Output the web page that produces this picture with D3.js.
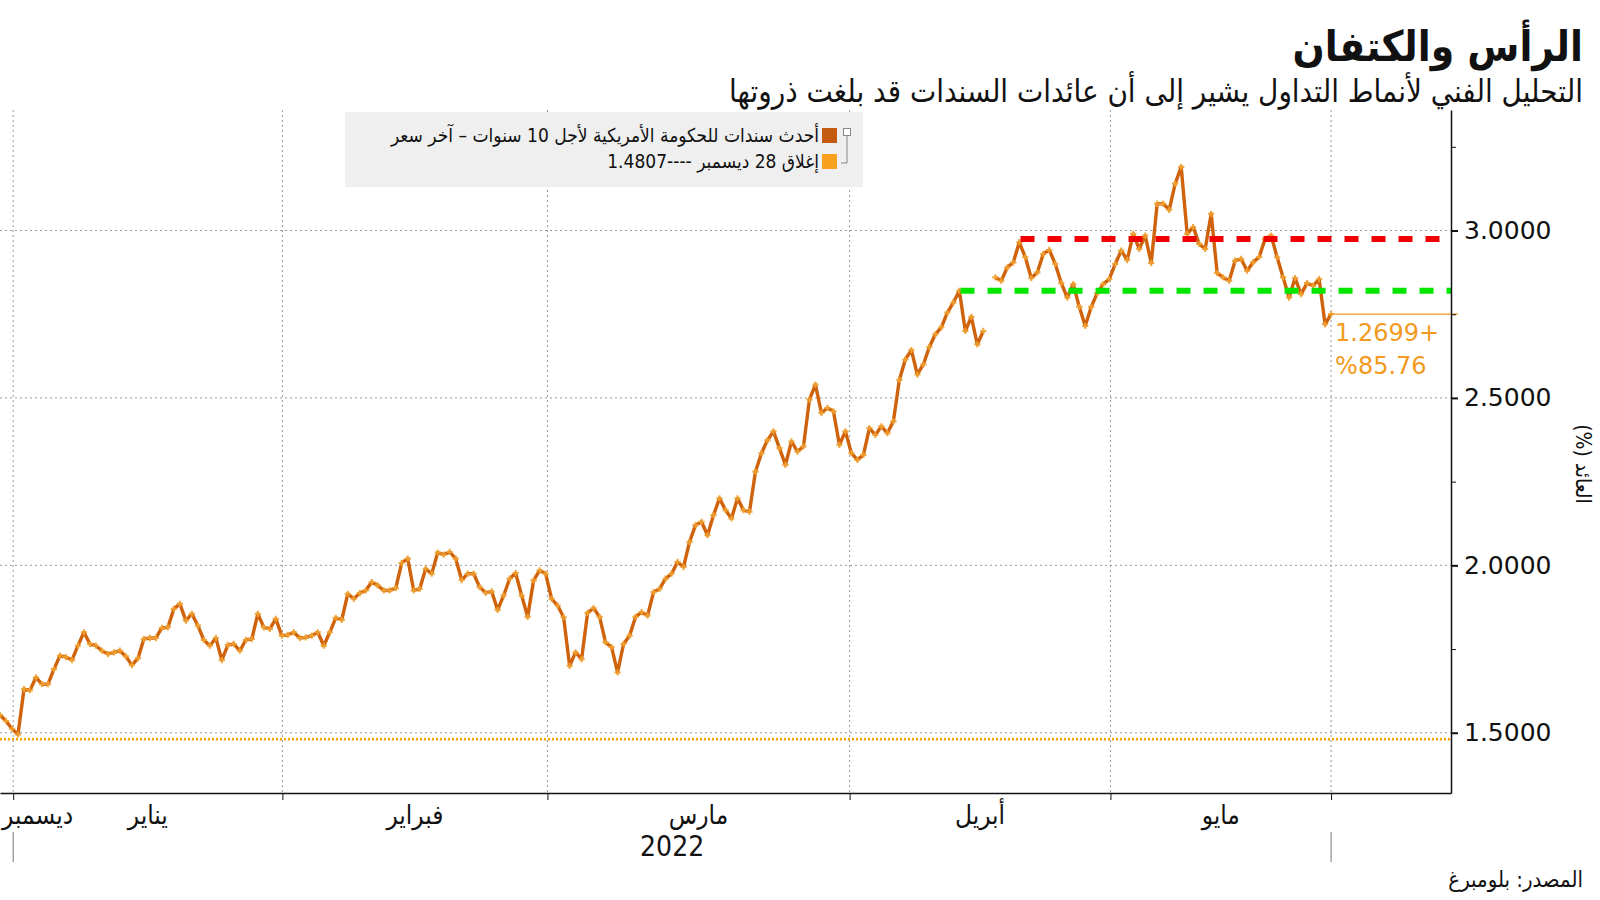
<!DOCTYPE html>
<html>
<head>
<meta charset="utf-8">
<script src="https://d3js.org/d3.v7.min.js"></script>
<style>
  body { margin: 0; background: #fff; }
  .ar { font-family: 'DejaVu Sans Condensed', 'DejaVu Sans', sans-serif; }
  .num { font-family: 'DejaVu Sans', Verdana, sans-serif; }
</style>
</head>
<body>
<div id="chart"></div>
<script>
// US 10y yield, one value per session slot, split by month
let dec = [1.553, 1.535, 1.512]
let jan = [1.495, 1.63, 1.627, 1.665, 1.645, 1.645, 1.69, 1.73, 1.726, 1.717,
  1.76, 1.80, 1.765, 1.76, 1.745, 1.735, 1.74, 1.745, 1.728, 1.702,
  1.722, 1.78, 1.783, 1.783, 1.813, 1.815, 1.87, 1.885, 1.835, 1.855,
  1.82, 1.777, 1.76, 1.783, 1.717, 1.762, 1.765, 1.745, 1.777, 1.78,
  1.855, 1.815, 1.81, 1.84, 1.79]
let feb = [1.792, 1.80, 1.783, 1.785, 1.79, 1.80, 1.76, 1.80, 1.843, 1.837,
  1.915, 1.90, 1.917, 1.925, 1.95, 1.94, 1.925, 1.925, 1.932, 2.007,
  2.02, 1.925, 1.93, 1.99, 1.975, 2.038, 2.032, 2.04, 2.02, 1.956,
  1.975, 1.975, 1.935, 1.918, 1.922, 1.867, 1.91, 1.96, 1.977, 1.91,
  1.846, 1.955, 1.985, 1.975]
let mar = [1.90, 1.88, 1.845, 1.70, 1.74, 1.72, 1.858, 1.872, 1.846, 1.77,
  1.756, 1.68, 1.765, 1.79, 1.846, 1.86, 1.85, 1.92, 1.93, 1.96,
  1.975, 2.01, 1.995, 2.07, 2.12, 2.13, 2.09, 2.15, 2.2, 2.165,
  2.14, 2.2, 2.165, 2.16, 2.28, 2.335, 2.374, 2.40, 2.35, 2.30,
  2.37, 2.34, 2.355, 2.495, 2.54, 2.455, 2.47, 2.46, 2.36, 2.40]
let apr = [2.335, 2.315, 2.33, 2.41, 2.39, 2.415, 2.395, 2.43, 2.554, 2.615,
  2.643, 2.57, 2.60, 2.652, 2.69, 2.711, 2.755, 2.785, 2.82, 2.70,
  2.742, 2.66, 2.70, null, 2.86, 2.85, 2.89, 2.905, 2.965, 2.92,
  2.858, 2.875, 2.93, 2.942, 2.9, 2.843, 2.80, 2.84, 2.772, 2.715,
  2.772, 2.813, 2.84, 2.855]
let may = [2.90, 2.94, 2.912, 2.99, 2.945, 2.985, 2.903, 3.08, 3.08, 3.062,
  3.14, 3.19, 2.99, 3.01, 2.96, 2.945, 3.05, 2.873, 2.86, 2.85,
  2.91, 2.915, 2.88, 2.905, 2.921, 2.975, 2.985, 2.92, 2.86, 2.80,
  2.858, 2.81, 2.843, 2.835, 2.855, 2.72, 2.7506]

let yields = [].concat(dec, jan, feb, mar, apr, may)

let monthTicks = [2.2, 47.1, 91.3, 141.7, 185.2, 222]
let monthLabels = ['يناير', 'فبراير', 'مارس', 'أبريل', 'مايو']
let yearLabel = '2022'
let yTicks = [1.5, 2.0, 2.5, 3.0]
let yMinorTicks = [1.75, 2.25, 2.75, 3.25]
let lastClose = 1.4807
let levels = [
  { value: 2.82, start: 160.2, color: '#00e600' },
  { value: 2.975, start: 170.2, color: '#f00000' }
]

let margin = { top: 110, left: 0, right: 149, bottom: 107 }
let width = 1600 - margin.left - margin.right
let height = 900 - margin.top - margin.bottom

let xScale = d3.scaleLinear().domain([0, 242]).range([0, width])
let yScale = d3.scaleLinear().domain([1.32, 3.36]).range([height, 0])

let svg = d3
  .select('#chart')
  .append('svg')
  .attr('width', 1600)
  .attr('height', 900)

let g = svg.append('g').attr('transform', `translate(${margin.left},${margin.top})`)

// legend box sits under the grid
let legend = svg.append('g')
legend
  .append('rect')
  .attr('x', 345)
  .attr('y', 112)
  .attr('width', 518)
  .attr('height', 75)
  .attr('fill', '#efefef')

// grid
g.selectAll('.vgrid')
  .data(monthTicks)
  .enter()
  .append('line')
  .attr('class', 'vgrid')
  .attr('x1', d => xScale(d))
  .attr('x2', d => xScale(d))
  .attr('y1', 0)
  .attr('y2', height)
  .attr('stroke', '#999')
  .attr('stroke-dasharray', '2,3')

g.selectAll('.hgrid')
  .data(yTicks)
  .enter()
  .append('line')
  .attr('class', 'hgrid')
  .attr('x1', 0)
  .attr('x2', width)
  .attr('y1', d => yScale(d))
  .attr('y2', d => yScale(d))
  .attr('stroke', '#999')
  .attr('stroke-dasharray', '2,3')

// last close reference line
g.append('line')
  .attr('x1', 0)
  .attr('x2', width)
  .attr('y1', yScale(lastClose))
  .attr('y2', yScale(lastClose))
  .attr('stroke', '#f7a600')
  .attr('stroke-width', 2.5)
  .attr('stroke-dasharray', '2,2')

let line = d3
  .line()
  .defined(d => d !== null)
  .x((d, i) => xScale(i))
  .y(d => yScale(d))

g.append('path')
  .datum(yields)
  .attr('fill', 'none')
  .attr('stroke', '#cf620b')
  .attr('stroke-width', 3.4)
  .attr('stroke-linejoin', 'round')
  .attr('d', line)

g.selectAll('.mark')
  .data(yields.map((v, i) => ({ v, i })).filter(d => d.v !== null))
  .enter()
  .append('path')
  .attr('class', 'mark')
  .attr('d', d3.symbol(d3.symbolCross, 22))
  .attr('transform', d => `translate(${xScale(d.i)},${yScale(d.v)})`)
  .attr('fill', '#f0a232')
  .attr('opacity', 0.9)

// head and shoulders levels
g.selectAll('.level')
  .data(levels)
  .enter()
  .append('line')
  .attr('class', 'level')
  .attr('x1', d => xScale(d.start))
  .attr('x2', width)
  .attr('y1', d => yScale(d.value))
  .attr('y2', d => yScale(d.value))
  .attr('stroke', d => d.color)
  .attr('stroke-width', 6)
  .attr('stroke-dasharray', '14,13')

// last value marker
let lastIdx = yields.length - 1
let last = yields[lastIdx]
g.append('line')
  .attr('x1', xScale(lastIdx))
  .attr('x2', width + 7)
  .attr('y1', yScale(last))
  .attr('y2', yScale(last))
  .attr('stroke', '#f39a1e')
  .attr('stroke-width', 1.2)

let change = last - lastClose
g.append('text')
  .attr('class', 'num')
  .attr('x', xScale(lastIdx) + 4)
  .attr('y', yScale(last) + 27)
  .attr('font-size', 24)
  .attr('fill', '#f39a1e')
  .text(d3.format('.4f')(change) + '+')

g.append('text')
  .attr('class', 'num')
  .attr('x', xScale(lastIdx) + 4)
  .attr('y', yScale(last) + 60)
  .attr('font-size', 24)
  .attr('fill', '#f39a1e')
  .text('%' + d3.format('.2f')((change / lastClose) * 100))

// y axis on the right
let yAxis = d3
  .axisRight(yScale)
  .tickValues(yTicks)
  .tickFormat(d3.format('.4f'))
  .tickSize(7)
  .tickSizeOuter(0)
  .tickPadding(6)

let yAxisG = g
  .append('g')
  .attr('transform', `translate(${width},0)`)
  .call(yAxis)
yAxisG.select('.domain').attr('stroke', '#111').attr('stroke-width', 1.5)
yAxisG.selectAll('.tick line').attr('stroke', '#111').attr('stroke-width', 2)
yAxisG
  .selectAll('.tick text')
  .attr('class', 'num')
  .attr('font-size', 25)
  .attr('fill', '#111')

let yMinor = g
  .append('g')
  .attr('transform', `translate(${width},0)`)
  .call(d3.axisRight(yScale).tickValues(yMinorTicks).tickFormat('').tickSize(5).tickSizeOuter(0))
yMinor.select('.domain').remove()
yMinor.selectAll('.tick line').attr('stroke', '#111')

// x axis
let xAxisG = g
  .append('g')
  .attr('transform', `translate(0,${height})`)
  .call(d3.axisBottom(xScale).tickValues(monthTicks).tickFormat('').tickSize(7).tickSizeOuter(0))
xAxisG.select('.domain').attr('stroke', '#111').attr('stroke-width', 1.5)
xAxisG.selectAll('.tick line').attr('stroke', '#111')

let monthMids = monthTicks.slice(1).map((d, i) => (d + monthTicks[i]) / 2)

g.selectAll('.month-label')
  .data(monthLabels)
  .enter()
  .append('text')
  .attr('class', 'ar month-label')
  .attr('x', (d, i) => xScale(monthMids[i]))
  .attr('y', height + 31)
  .attr('text-anchor', 'middle')
  .attr('font-size', 26)
  .attr('fill', '#111')
  .text(d => d)

g.append('text')
  .attr('class', 'ar')
  .attr('x', xScale(0) + 2)
  .attr('y', height + 31)
  .attr('font-size', 26)
  .attr('fill', '#111')
  .text('ديسمبر')

g.selectAll('.year-tick')
  .data([monthTicks[0], monthTicks[monthTicks.length - 1]])
  .enter()
  .append('line')
  .attr('class', 'year-tick')
  .attr('x1', d => xScale(d))
  .attr('x2', d => xScale(d))
  .attr('y1', height + 39)
  .attr('y2', height + 69)
  .attr('stroke', '#777')

g.append('text')
  .attr('class', 'ar')
  .attr('x', xScale((monthTicks[0] + monthTicks[monthTicks.length - 1]) / 2))
  .attr('y', height + 63)
  .attr('text-anchor', 'middle')
  .attr('font-size', 28)
  .attr('fill', '#111')
  .text(yearLabel)

// y axis title
svg
  .append('text')
  .attr('class', 'ar')
  .attr('direction', 'rtl')
  .attr('text-anchor', 'middle')
  .attr('font-size', 21)
  .attr('fill', '#111')
  .attr('transform', 'translate(1576,464)rotate(90)')
  .text('العائد (%)')

// legend content
legend
  .append('rect')
  .attr('x', 822)
  .attr('y', 128)
  .attr('width', 15)
  .attr('height', 15)
  .attr('fill', '#c55a11')

legend
  .append('rect')
  .attr('x', 822)
  .attr('y', 154)
  .attr('width', 15)
  .attr('height', 15)
  .attr('fill', '#f7a11d')

legend
  .append('rect')
  .attr('x', 843.5)
  .attr('y', 128.5)
  .attr('width', 7)
  .attr('height', 7)
  .attr('fill', 'white')
  .attr('stroke', '#888')

legend
  .append('path')
  .attr('d', 'M847,136V163H841')
  .attr('fill', 'none')
  .attr('stroke', '#888')

legend
  .append('text')
  .attr('class', 'ar')
  .attr('direction', 'rtl')
  .attr('x', 819)
  .attr('y', 142)
  .attr('font-size', 19)
  .attr('fill', '#111')
  .text('أحدث سندات للحكومة الأمريكية لأجل 10 سنوات – آخر سعر')

legend
  .append('text')
  .attr('class', 'ar')
  .attr('direction', 'rtl')
  .attr('x', 819)
  .attr('y', 168)
  .attr('font-size', 19)
  .attr('fill', '#111')
  .text('إغلاق 28 ديسمبر ----' + lastClose)

// titles
svg
  .append('text')
  .attr('class', 'ar')
  .attr('direction', 'rtl')
  .attr('x', 1583)
  .attr('y', 61)
  .attr('font-size', 42)
  .attr('font-weight', 'bold')
  .attr('fill', '#111')
  .text('الرأس والكتفان')

svg
  .append('text')
  .attr('class', 'ar')
  .attr('direction', 'rtl')
  .attr('x', 1583)
  .attr('y', 102)
  .attr('font-size', 31)
  .attr('fill', '#111')
  .text('التحليل الفني لأنماط التداول يشير إلى أن عائدات السندات قد بلغت ذروتها')

svg
  .append('text')
  .attr('class', 'ar')
  .attr('direction', 'rtl')
  .attr('x', 1583)
  .attr('y', 887)
  .attr('font-size', 22)
  .attr('fill', '#111')
  .text('المصدر: بلومبرغ')
</script>
</body>
</html>
